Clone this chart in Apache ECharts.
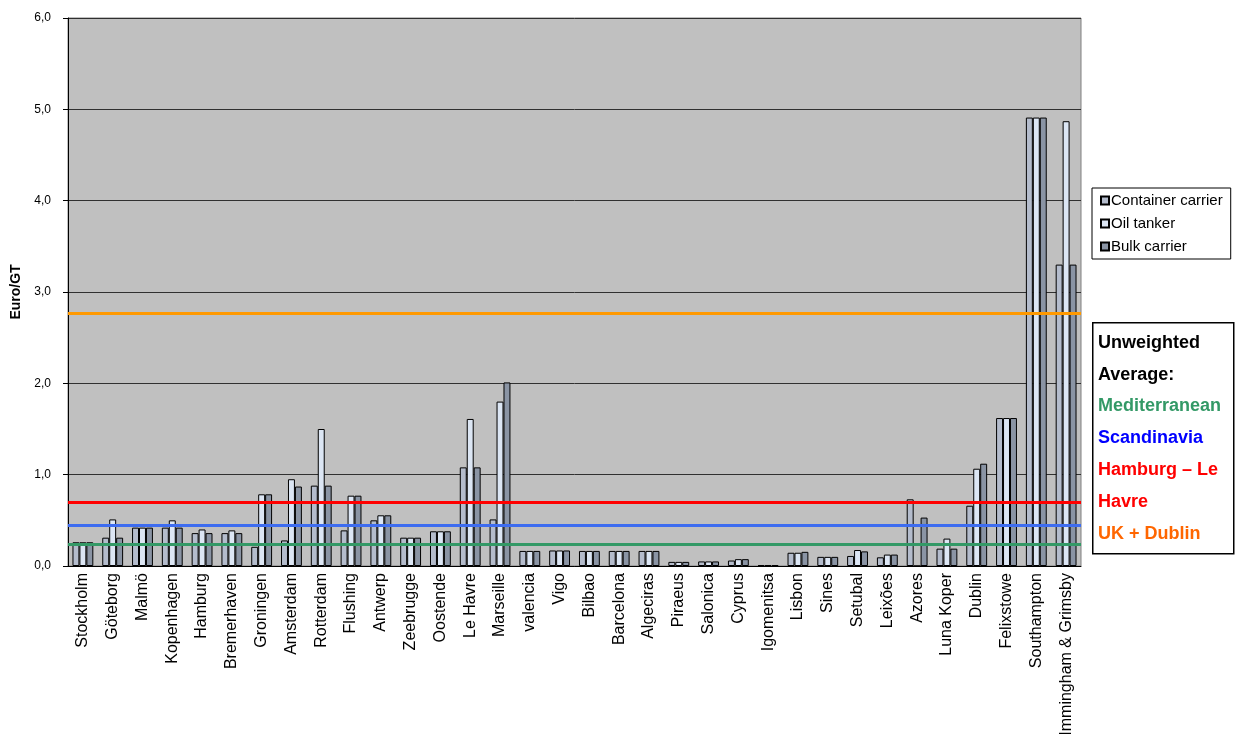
<!DOCTYPE html>
<html>
<head>
<meta charset="utf-8">
<script src="https://cdn.jsdelivr.net/npm/echarts@6/dist/echarts.min.js"></script>
<style>
  html, body { margin: 0; padding: 0; background: #fff; }
  #chart { width: 1241px; height: 734px; }
</style>
</head>
<body>
<div id="chart"></div>
<script>
  let ports = ['Stockholm', 'Göteborg', 'Malmö', 'Kopenhagen', 'Hamburg', 'Bremerhaven', 'Groningen',
    'Amsterdam', 'Rotterdam', 'Flushing', 'Antwerp', 'Zeebrugge', 'Oostende', 'Le Havre', 'Marseille',
    'valencia', 'Vigo', 'Bilbao', 'Barcelona', 'Algeciras', 'Piraeus', 'Salonica', 'Cyprus', 'Igomenitsa',
    'Lisbon', 'Sines', 'Setubal', 'Leixões', 'Azores', 'Luna Koper', 'Dublin', 'Felixstowe',
    'Southampton', 'Immingham & Grimsby'];

  let containerCarrier = [0.26, 0.31, 0.42, 0.42, 0.36, 0.36, 0.21, 0.28, 0.88, 0.39, 0.50, 0.31, 0.38, 1.08, 0.51,
    0.165, 0.17, 0.165, 0.165, 0.165, 0.045, 0.05, 0.06, 0.01, 0.145, 0.10, 0.11, 0.095, 0.73, 0.19,
    0.66, 1.62, 4.91, 3.30];
  let oilTanker = [0.26, 0.51, 0.42, 0.50, 0.40, 0.39, 0.785, 0.95, 1.50, 0.77, 0.555, 0.31, 0.38, 1.61, 1.80,
    0.165, 0.17, 0.165, 0.165, 0.165, 0.045, 0.05, 0.075, 0.01, 0.145, 0.10, 0.175, 0.125, 0, 0.30,
    1.065, 1.62, 4.91, 4.87];
  let bulkCarrier = [0.26, 0.31, 0.42, 0.42, 0.36, 0.36, 0.785, 0.87, 0.88, 0.77, 0.555, 0.31, 0.38, 1.08, 2.01,
    0.165, 0.17, 0.165, 0.165, 0.165, 0.045, 0.05, 0.075, 0.01, 0.155, 0.10, 0.16, 0.125, 0.53, 0.19,
    1.12, 1.62, 4.91, 3.30];

  let averageNames = ['Mediterranean', 'Scandinavia', 'Hamburg – Le Havre', 'UK + Dublin'];
  let averageValues = [0.245, 0.45, 0.70, 2.77];
  let averageColors = ['#339966', '#3d6cf0', '#ff0000', '#ff9900'];

  let chart = echarts.init(document.getElementById('chart'));

  let barStyle = function (color) {
    return { color: color, borderColor: '#000', borderWidth: 1 };
  };

  chart.setOption({
    animation: false,
    textStyle: { fontFamily: 'Liberation Sans, Arial, sans-serif', color: '#000' },
    grid: {
      left: 68, right: 160, top: 18, bottom: 168,
      outerBoundsMode: 'none',
      containLabel: false,
      show: true, backgroundColor: '#c0c0c0', borderColor: '#808080', borderWidth: 1
    },
    legend: {
      orient: 'vertical',
      left: 1092, top: 188,
      backgroundColor: '#fff',
      borderColor: '#000', borderWidth: 1,
      padding: [5, 8, 5, 8],
      itemGap: 8,
      itemWidth: 8, itemHeight: 8,
      icon: 'rect',
      textStyle: { fontSize: 15, lineHeight: 15, color: '#000', padding: [0, 0, 0, -3] },
      data: ['Container carrier', 'Oil tanker', 'Bulk carrier']
    },
    xAxis: {
      type: 'category',
      data: ports,
      axisLine: { lineStyle: { color: '#000' } },
      axisTick: { length: 5, lineStyle: { color: '#000' } },
      axisLabel: { rotate: 90, interval: 0, fontSize: 16, color: '#000', margin: 7 }
    },
    yAxis: {
      type: 'value',
      min: 0, max: 6, interval: 1,
      name: 'Euro/GT',
      nameLocation: 'middle',
      nameGap: 36,
      nameTextStyle: { fontWeight: 'bold', fontSize: 14, color: '#000' },
      axisLine: { show: true, lineStyle: { color: '#000' } },
      axisTick: { show: true, length: 5, lineStyle: { color: '#000' } },
      axisLabel: {
        fontSize: 12, color: '#000', margin: 17,
        formatter: function (v) { return v.toFixed(1).replace('.', ','); }
      },
      splitLine: { lineStyle: { color: '#303030', width: 1 } }
    },
    series: [{
      name: 'Container carrier',
      type: 'bar',
      data: containerCarrier,
      barGap: '0%',
      barCategoryGap: '30%',
      itemStyle: barStyle('#b4bccc')
    }, {
      name: 'Oil tanker',
      type: 'bar',
      data: oilTanker,
      barGap: '0%',
      barCategoryGap: '30%',
      itemStyle: barStyle('#dce6f4')
    }, {
      name: 'Bulk carrier',
      type: 'bar',
      data: bulkCarrier,
      barGap: '0%',
      barCategoryGap: '30%',
      itemStyle: barStyle('#8a94a4'),
      markLine: {
        silent: true,
        symbol: 'none',
        label: { show: false },
        data: averageValues.map(function (v, i) {
          return { name: averageNames[i], yAxis: v, lineStyle: { color: averageColors[i], width: 3, type: 'solid' } };
        })
      }
    }],
    graphic: [{
      type: 'rect',
      left: 1092, top: 322,
      shape: { width: 141, height: 231 },
      style: { fill: '#fff', stroke: '#000', lineWidth: 1.5 }
    }, {
      type: 'text',
      left: 1098, top: 327,
      style: {
        text: '{k|Unweighted}\n{k|Average:}\n{g|Mediterranean}\n{b|Scandinavia}\n{r|Hamburg – Le}\n{r|Havre}\n{o|UK + Dublin}',
        font: 'bold 18px Liberation Sans, Arial, sans-serif',
        lineHeight: 31.8,
        rich: {
          k: { fill: '#000', fontWeight: 'bold', fontSize: 18, lineHeight: 31.8 },
          g: { fill: '#339966', fontWeight: 'bold', fontSize: 18, lineHeight: 31.8 },
          b: { fill: '#0000ff', fontWeight: 'bold', fontSize: 18, lineHeight: 31.8 },
          r: { fill: '#ff0000', fontWeight: 'bold', fontSize: 18, lineHeight: 31.8 },
          o: { fill: '#ff6600', fontWeight: 'bold', fontSize: 18, lineHeight: 31.8 }
        }
      }
    }]
  });
</script>
</body>
</html>
